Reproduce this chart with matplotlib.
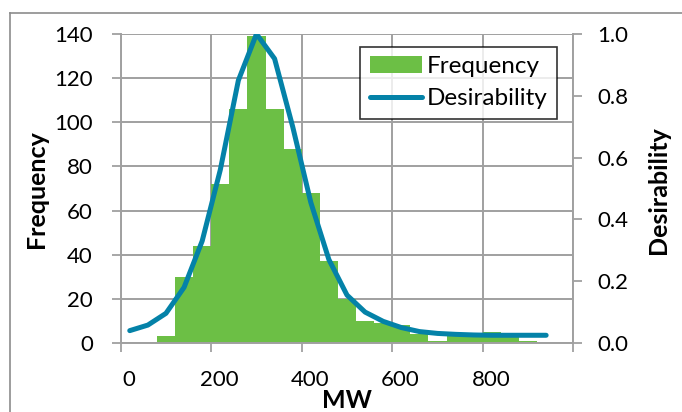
import matplotlib
matplotlib.use("Agg")
import matplotlib.pyplot as plt
from matplotlib.lines import Line2D
from matplotlib.ticker import FixedLocator

# ---- data ----
bin_centers = [82, 122, 162, 202, 242, 282, 322, 362, 402, 442, 482,
               522, 562, 602, 642, 682, 722, 762, 802, 842, 882]
frequency = [3, 30, 44, 72, 106, 139, 106, 88, 68, 37, 20,
             10, 9, 8, 4, 1, 3, 3, 5, 3, 1]
bin_width = 40

des_x = [2, 42, 82, 122, 162, 202, 242, 282, 322, 362, 402, 442,
         482, 522, 562, 602, 642, 682, 722, 762, 802, 842, 882, 922]
desirability = [0.04, 0.058, 0.096, 0.18, 0.33, 0.56, 0.85, 1.0, 0.92, 0.70,
                0.455, 0.27, 0.155, 0.10, 0.07, 0.05, 0.037, 0.031, 0.028,
                0.026, 0.025, 0.025, 0.025, 0.025]

x_tick_labels = [0, 200, 400, 600, 800]
x_grid = [-18, 182, 382, 582, 782, 982]
y_ticks = [0, 20, 40, 60, 80, 100, 120, 140]
y2_ticks = [0.0, 0.2, 0.4, 0.6, 0.8, 1.0]

GREEN = "#6CBF45"
BLUE = "#0482A8"
GRID = "#A0A0A0"
FONT = "Lato"

W, H = 682, 412
plt.rcParams['font.family'] = [FONT, 'DejaVu Sans']
fig = plt.figure(figsize=(W / 100, H / 100), dpi=100)

L, R, T, B = 120.7, 573.3, 34, 343
ax = fig.add_axes([L / W, 1 - B / H, (R - L) / W, (B - T) / H])
ax2 = ax.twinx()

ax.bar(bin_centers, frequency, width=bin_width, color=GREEN, zorder=2,
       linewidth=0, label="Frequency")
ax2.plot(des_x, desirability, color=BLUE, lw=3.6, solid_capstyle='round',
         solid_joinstyle='round', zorder=3, label="Desirability")

ax.set_xlim(-18, 982)
ax.set_ylim(0, 140)
ax2.set_ylim(0, 1.0)

# grid
ax.set_axisbelow(True)
ax.xaxis.set_major_locator(FixedLocator(x_tick_labels))
ax.xaxis.set_minor_locator(FixedLocator(x_grid))
ax.set_xticklabels([str(v) for v in x_tick_labels])
ax.set_yticks(y_ticks)
ax.grid(True, which='minor', axis='x', color=GRID, lw=1.4)
ax.grid(True, which='major', axis='y', color=GRID, lw=1.4)
ax.grid(False, which='major', axis='x')

TICK_FS = 16
ax.tick_params(axis='x', which='major', length=0, pad=19.5, labelsize=TICK_FS)
ax.tick_params(axis='x', which='minor', length=6.5, width=1.3, color=GRID,
               direction='out')
ax.tick_params(axis='y', which='major', length=6.5, width=1.3, color=GRID,
               direction='out', pad=13.5, labelsize=TICK_FS)
ax2.set_yticks(y2_ticks)
ax2.set_yticklabels([f"{v:.1f}" for v in y2_ticks])
ax2.tick_params(axis='y', length=6.5, width=1.3, color=GRID, direction='out',
                pad=11, labelsize=TICK_FS)

for a in (ax, ax2):
    for s in a.spines.values():
        s.set_visible(False)
for a, side in ((ax, 'left'), (ax, 'bottom'), (ax2, 'right')):
    a.spines[side].set_visible(True)
    a.spines[side].set_color(GRID)
    a.spines[side].set_linewidth(1.4)

# axis titles
TITLE_FS = 18
fig.text(36 / W, 1 - 189 / H, "Frequency", rotation=90, ha='center',
         va='center', fontsize=TITLE_FS, fontweight='bold')
fig.text(658 / W, 1 - 190 / H, "Desirability", rotation=90, ha='center',
         va='center', fontsize=TITLE_FS, fontweight='bold')
fig.text(347 / W, 1 - 389 / H, "MW", ha='center', va='top', fontsize=TITLE_FS,
         fontweight='bold')

# legend
h1, l1 = ax.get_legend_handles_labels()
h2, l2 = ax2.get_legend_handles_labels()
leg = ax2.legend(h1 + h2, l1 + l2, loc='upper left',
                 bbox_to_anchor=((360 - L) / (R - L), 1 - (46.7 - T) / (B - T)),
                 frameon=True, fancybox=False, fontsize=17.5, borderpad=0.4,
                 handlelength=2.15, handletextpad=0.2, labelspacing=0.45,
                 borderaxespad=0)
leg.get_frame().set_edgecolor('black')
leg.get_frame().set_linewidth(1.2)

# chart-area border (partially cropped)
fig.add_artist(Line2D([10 / W, 10 / W], [0, 1 - 13 / H], transform=fig.transFigure,
                      color="#8C8C8C", lw=1.2))
fig.add_artist(Line2D([10 / W, 1], [1 - 13 / H, 1 - 13 / H], transform=fig.transFigure,
                      color="#8C8C8C", lw=1.2))

fig.savefig("out.png", dpi=100)
